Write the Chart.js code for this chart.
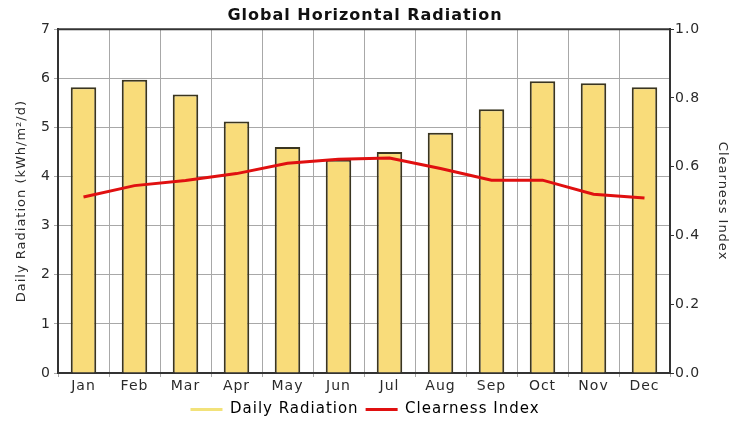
<!DOCTYPE html>
<html>
<head>
<meta charset="utf-8">
<script src="https://cdn.jsdelivr.net/npm/chart.js@4"></script>
<style>
  html, body { margin: 0; padding: 0; background: #fff; }
  #wrap { width: 730px; height: 427px; }
</style>
</head>
<body>
<div id="wrap"><canvas id="c" width="730" height="427"></canvas></div>
<script>
'use strict';

const months = ['Jan', 'Feb', 'Mar', 'Apr', 'May', 'Jun', 'Jul', 'Aug', 'Sep', 'Oct', 'Nov', 'Dec'];
const dailyRadiation = [5.82, 5.97, 5.67, 5.12, 4.6, 4.34, 4.5, 4.89, 5.37, 5.94, 5.9, 5.82];
const clearnessIndex = [0.512, 0.545, 0.56, 0.58, 0.61, 0.622, 0.625, 0.595, 0.561, 0.561, 0.52, 0.509];
const radiationTicks = [0, 1, 2, 3, 4, 5, 6, 7];
const clearnessTicks = [0, 0.2, 0.4, 0.6, 0.8, 1.0];

const fontFamily = '"DejaVu Sans", Verdana, sans-serif';
const textColor = '#2a2a2a';
const gridColor = '#a8a8a8';
const barFill = '#f9dc7a';
const lineRed = '#e01010';

Chart.defaults.font.family = fontFamily;
Chart.defaults.color = textColor;

// the original text is drawn quite wide, a bit of letter spacing gets close to it
const spacing = {
    id: 'spacing',
    beforeLayout(chart) { chart.ctx.letterSpacing = '1px'; },
    beforeDraw(chart) { chart.ctx.letterSpacing = '1px'; }
};

const frameTop = {
    id: 'frameTop',
    afterDraw(chart) {
        const { ctx, chartArea: a } = chart;
        ctx.save();
        ctx.strokeStyle = '#333';
        ctx.lineWidth = 2;
        ctx.beginPath();
        ctx.moveTo(a.left, a.top);
        ctx.lineTo(a.right, a.top);
        ctx.stroke();
        ctx.restore();
    }
};

new Chart(document.getElementById('c').getContext('2d'), {
    type: 'bar',
    data: {
        labels: months,
        datasets: [
            {
                type: 'line', label: 'Clearness Index', data: clearnessIndex, yAxisID: 'y2',
                borderColor: lineRed, borderWidth: 3, pointRadius: 0, tension: 0, order: 0
            },
            {
                label: 'Daily Radiation', data: dailyRadiation, yAxisID: 'y',
                backgroundColor: barFill, borderColor: '#3a3520', borderWidth: 2,
                barPercentage: 0.5, categoryPercentage: 1.0, order: 1
            }
        ]
    },
    options: {
        responsive: false,
        animation: false,
        layout: { padding: 0 },
        plugins: {
            title: {
                display: true, text: 'Global Horizontal Radiation',
                font: { size: 16, weight: 'bold' }, color: '#111',
                padding: { top: 6, bottom: 4 }
            },
            legend: {
                position: 'bottom',
                reverse: true,
                labels: {
                    boxWidth: 32, boxHeight: 3, padding: 7,
                    font: { size: 15 }, color: textColor,
                    generateLabels: (chart) => chart.data.datasets.map((ds, i) => ({
                        text: ds.label,
                        fillStyle: i === 0 ? lineRed : '#f2e27a',
                        strokeStyle: i === 0 ? lineRed : '#f2e27a',
                        lineWidth: 0,
                        datasetIndex: i
                    }))
                }
            },
            tooltip: { enabled: false }
        },
        scales: {
            x: {
                offset: true,
                afterFit: (axis) => { axis.height = 22; },
                grid: { display: true, offset: true, color: gridColor, lineWidth: 1, tickLength: 4 },
                border: { color: '#333', width: 2 },
                ticks: { font: { size: 14 }, color: textColor, padding: 1 }
            },
            y: {
                position: 'left', min: 0, max: 7,
                afterFit: (axis) => { axis.width = 58; },
                afterBuildTicks: (axis) => { axis.ticks = radiationTicks.map(v => ({ value: v })); },
                grid: { color: gridColor, tickLength: 4 },
                border: { color: '#333', width: 2 },
                ticks: { font: { size: 14 }, color: textColor, padding: 3 },
                title: { display: true, text: 'Daily Radiation (kWh/m²/d)', font: { size: 13 }, color: textColor, padding: { top: 14, bottom: 0 } }
            },
            y2: {
                position: 'right', min: 0, max: 1,
                afterFit: (axis) => { axis.width = 60; },
                afterBuildTicks: (axis) => { axis.ticks = clearnessTicks.map(v => ({ value: v })); },
                grid: { drawOnChartArea: false, tickLength: 4, color: '#333' },
                border: { color: '#333', width: 2 },
                ticks: { font: { size: 14 }, color: textColor, padding: 1, callback: v => Number(v).toFixed(1) },
                title: { display: true, text: 'Clearness Index', font: { size: 13 }, color: textColor, padding: 0 }
            }
        }
    },
    plugins: [spacing, frameTop]
});
</script>
</body>
</html>
